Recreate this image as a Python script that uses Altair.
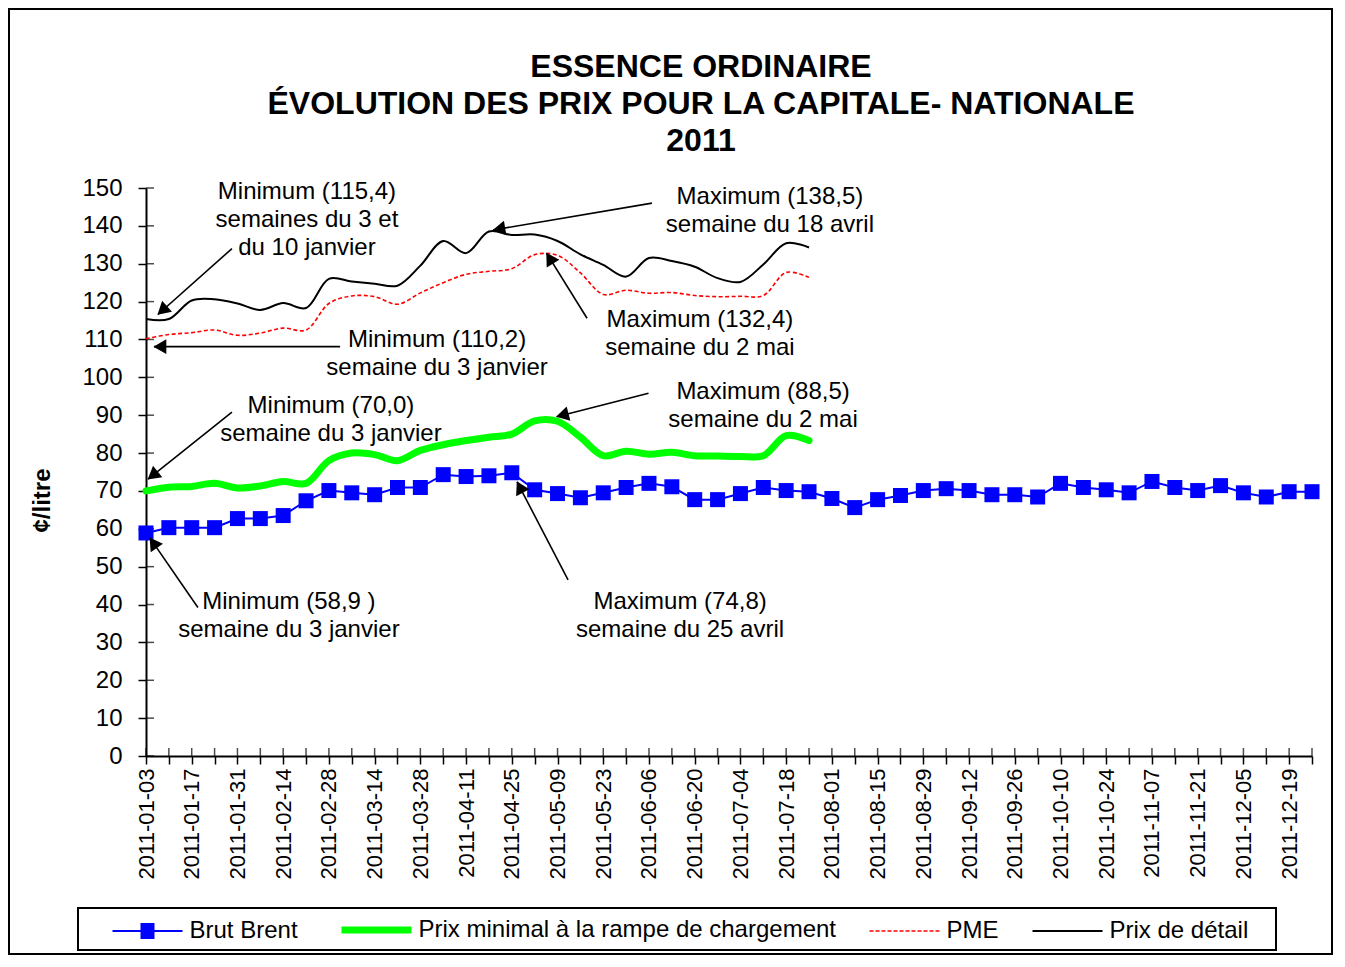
import math
import altair as alt
import pandas as pd

FONT = "Liberation Sans"

# ---------------- data ----------------
weeks = [
    "2011-01-03", "2011-01-10", "2011-01-17", "2011-01-24", "2011-01-31",
    "2011-02-07", "2011-02-14", "2011-02-21", "2011-02-28",
    "2011-03-07", "2011-03-14", "2011-03-21", "2011-03-28",
    "2011-04-04", "2011-04-11", "2011-04-18", "2011-04-25",
    "2011-05-02", "2011-05-09", "2011-05-16", "2011-05-23", "2011-05-30",
    "2011-06-06", "2011-06-13", "2011-06-20", "2011-06-27",
    "2011-07-04", "2011-07-11", "2011-07-18", "2011-07-25",
    "2011-08-01", "2011-08-08", "2011-08-15", "2011-08-22", "2011-08-29",
    "2011-09-05", "2011-09-12", "2011-09-19", "2011-09-26",
    "2011-10-03", "2011-10-10", "2011-10-17", "2011-10-24", "2011-10-31",
    "2011-11-07", "2011-11-14", "2011-11-21", "2011-11-28",
    "2011-12-05", "2011-12-12", "2011-12-19", "2011-12-26",
]

brut_brent = [58.9, 60.3, 60.3, 60.3, 62.7, 62.7, 63.5, 67.4, 70.1, 69.5,
              69.0, 70.9, 70.9, 74.3, 73.8, 74.0, 74.8, 70.3, 69.3, 68.2,
              69.5, 70.9, 72.0, 71.1, 67.7, 67.7, 69.3, 70.9, 70.1, 69.8,
              68.0, 65.6, 67.7, 68.8, 70.1, 70.6, 70.1, 69.0, 69.0, 68.4,
              72.0, 70.9, 70.3, 69.5, 72.5, 70.9, 70.1, 71.4, 69.5, 68.4,
              69.8, 69.8]

prix_minimal = [70.0, 71.0, 71.2, 72.0, 70.8, 71.3, 72.5, 72.0, 78.0, 80.0,
                79.6, 78.0, 80.7, 82.2, 83.3, 84.2, 85.0, 88.5, 88.4, 84.2,
                79.3, 80.5, 79.7, 80.2, 79.3, 79.2, 79.1, 79.3, 84.6, 83.3]

pme = [110.2, 111.3, 111.8, 112.5, 111.1, 111.7, 113.0, 112.5, 119.5, 121.5,
       121.3, 119.3, 122.3, 125.0, 127.2, 128.0, 128.7, 132.4, 132.2, 127.6,
       121.9, 123.0, 122.2, 122.4, 121.6, 121.3, 121.4, 121.6, 127.7, 126.4]

prix_detail = [115.4, 115.4, 120.3, 120.6, 119.5, 117.8, 119.6, 118.3, 126.0, 125.3,
               124.7, 124.2, 129.5, 136.0, 132.8, 138.5, 137.6, 137.7, 136.0, 132.5,
               129.7, 126.6, 131.5, 130.7, 129.2, 126.2, 125.2, 129.8, 135.4, 134.3]

series_names = ["Brut Brent", "Prix minimal à la rampe de chargement", "PME", "Prix de détail"]
series_colors = ["#0000FF", "#00FF00", "#FF0000", "#000000"]

y_ticks = [0, 10, 20, 30, 40, 50, 60, 70, 80, 90, 100, 110, 120, 130, 140, 150]

# annotations (week index, value)
note_lines = [
    "Minimum (115,4)", "semaines du 3 et", "du 10 janvier",
    "Maximum (138,5)", "semaine du 18 avril",
    "Minimum (110,2)", "semaine du 3 janvier",
    "Maximum (132,4)", "semaine du 2 mai",
    "Maximum  (88,5)", "semaine du 2 mai",
    "Minimum (70,0)", "semaine du 3 janvier",
    "Minimum (58,9 )", "semaine du 3 janvier",
    "Maximum (74,8)", "semaine du 25 avril",
]
note_i = [7.04, 7.04, 7.04, 27.29, 27.29, 12.73, 12.73, 24.23, 24.23,
          26.99, 26.99, 8.09, 8.09, 6.25, 6.25, 23.36, 23.36]
note_v = [149.0, 141.6, 134.2, 147.7, 140.3, 109.9, 102.5, 115.1, 107.7,
          96.2, 88.8, 92.5, 85.1, 40.7, 33.4, 40.7, 33.4]

arrow_tail_i = [3.76, 22.13, 8.49, 19.29, 21.98, 3.76, 2.27, 18.46]
arrow_tail_v = [134.0, 146.0, 108.1, 115.6, 95.8, 90.8, 39.2, 46.5]
arrow_tip_i = [0.52, 15.18, 0.35, 17.52, 17.96, 0.09, 0.17, 16.23]
arrow_tip_v = [116.6, 138.9, 108.1, 132.8, 89.6, 73.1, 57.6, 72.4]

# ---------------- layout ----------------
W, H = 1166, 568
XMAX = len(weeks) - 1
YMAX = 150
PX_X = W / XMAX
PX_Y = H / YMAX


def frame(name, vals):
    return pd.DataFrame({"i": list(range(len(vals))), "v": vals, "serie": name})


arr = "[" + ",".join("'" + w + "'" for w in weeks) + "]"
x_axis = alt.Axis(values=list(range(len(weeks))),
                  labelExpr="datum.value % 2 === 0 ? " + arr + "[datum.value] : ''",
                  labelAngle=270, labelAlign="right", labelBaseline="middle",
                  labelFontSize=22, labelPadding=4, tickSize=8,
                  labelOverlap=False, labelFlush=False, title=None, grid=False)
y_axis = alt.Axis(values=y_ticks, title="¢/litre", titleFontSize=24, titleFontWeight="bold",
                  titleAngle=270, titleX=-104, titleY=312, titleAlign="center",
                  titleBaseline="middle", labelFontSize=24, labelPadding=16,
                  labelOverlap=False, labelFlush=False, tickSize=8, grid=False)

xs = alt.Scale(domain=[0, XMAX], nice=False, zero=False)
ys = alt.Scale(domain=[0, YMAX], nice=False)
X = alt.X("i:Q", scale=xs, axis=x_axis)
Y = alt.Y("v:Q", scale=ys, axis=y_axis)

# legend symbol for Brut Brent: a line with a solid square drawn from strokes
sq = "M-1,0H1" + "".join("M-0.2,%.2fH0.2" % (-0.2 + 0.05 * k) for k in range(9))
legend = alt.Legend(
    orient="none", legendX=-34, legendY=730, direction="horizontal", title=None,
    symbolType={"expr": "datum.value === 'Brut Brent' ? '" + sq + "' : 'stroke'"},
    symbolSize=4900, symbolOffset=23.5,
    symbolStrokeWidth={"expr": "datum.value === 'PME' ? 1.5 : "
                               "((datum.value === 'Brut Brent' || datum.value === 'Prix de détail') ? 2 : 7)"},
    symbolDash={"expr": "datum.value === 'PME' ? [4, 2] : [1, 0]"},
    labelFont=FONT, labelFontSize=24, labelColor="black", labelOffset=30,
    columnPadding=29, labelLimit=800,
)
C = alt.Color("serie:N", scale=alt.Scale(domain=series_names, range=series_colors), legend=legend)

one = alt.Data(values=[{"k": 0}])
border = alt.Chart(one).mark_rect(fill="white", fillOpacity=0, stroke="black", strokeWidth=2).encode(
    x=alt.value(-137), x2=alt.value(1186), y=alt.value(-179), y2=alt.value(766))
legend_box = alt.Chart(one).mark_rect(fill="white", fillOpacity=0, stroke="black", strokeWidth=2).encode(
    x=alt.value(-68), x2=alt.value(1130), y=alt.value(720), y2=alt.value(762))

yticks_in = alt.Chart(pd.DataFrame({"v": y_ticks})).mark_tick(
    color="black", thickness=1.5, size=8).encode(y=Y, x=alt.value(4))
xticks_in = alt.Chart(pd.DataFrame({"i": list(range(len(weeks)))})).mark_tick(
    color="black", thickness=1.5, size=8).encode(x=X, y=alt.value(H - 4))

brent_df = frame(series_names[0], brut_brent)
brent_line = alt.Chart(brent_df).mark_line().encode(x=X, y=Y, color=C)
pme_line = alt.Chart(frame(series_names[2], pme)).mark_line(
    strokeWidth=1.6, strokeDash=[4, 2.5], interpolate="catmull-rom").encode(x=X, y=Y, color=C)
detail_line = alt.Chart(frame(series_names[3], prix_detail)).mark_line(
    strokeWidth=2, interpolate="catmull-rom").encode(x=X, y=Y, color=C)
min_line = alt.Chart(frame(series_names[1], prix_minimal)).mark_line(
    strokeWidth=7, interpolate="catmull-rom", strokeCap="round").encode(x=X, y=Y, color=C)
brent_pts = alt.Chart(brent_df).mark_point(shape="square", size=225, filled=True, opacity=1).encode(
    x=X, y=Y, color=alt.value("#0000FF"))

# arrows
rows = []
for ti, tv, hi, hv in zip(arrow_tail_i, arrow_tail_v, arrow_tip_i, arrow_tip_v):
    dx = (hi - ti) * PX_X
    dy = -(hv - tv) * PX_Y
    L = math.hypot(dx, dy)
    ux, uy = dx / L, dy / L
    ang = math.degrees(math.atan2(ux, -uy)) % 360
    back = 8.0
    rows.append({"i": ti, "v": tv, "i2": hi, "v2": hv,
                 "ci": hi - ux * back / PX_X, "cv": hv + uy * back / PX_Y, "ang": ang})
arrows_df = pd.DataFrame(rows)
arrow_lines = alt.Chart(arrows_df).mark_rule(color="black", strokeWidth=1.6).encode(
    x=X, y=Y, x2="i2:Q", y2="v2:Q")
arrow_heads = alt.Chart(arrows_df).mark_point(shape="triangle", size=220, filled=True,
                                              color="black", opacity=1).encode(
    x=alt.X("ci:Q", scale=xs, axis=x_axis), y=alt.Y("cv:Q", scale=ys, axis=y_axis),
    angle=alt.Angle("ang:Q", scale=None))

notes_df = pd.DataFrame({"i": note_i, "v": note_v, "txt": note_lines})
notes = alt.Chart(notes_df).mark_text(font=FONT, fontSize=24, align="center",
                                      baseline="middle", color="black").encode(
    x=X, y=Y, text="txt:N")

chart = alt.layer(
    border, legend_box, xticks_in, yticks_in,
    brent_line, pme_line, detail_line, min_line, brent_pts,
    arrow_lines, arrow_heads, notes,
).properties(
    width=W, height=H,
    title=alt.TitleParams(
        text=["ESSENCE ORDINAIRE", "ÉVOLUTION DES PRIX POUR LA CAPITALE- NATIONALE", "2011"],
        anchor="middle", frame="group", dx=-28, offset=-150,
        fontSize=32, font=FONT, fontWeight="bold", color="black", lineHeight=37),
    autosize=alt.AutoSizeParams(type="none"),
    padding={"left": 138, "top": 180, "right": 21, "bottom": 200},
    background="white",
).configure_axis(
    domainColor="black", domainWidth=2, tickColor="black", tickWidth=1.5,
    labelColor="black", labelFont=FONT, titleFont=FONT, titleColor="black",
).configure_view(stroke=None)

chart.save("out.html", embed_options={"renderer": "svg", "actions": False})
